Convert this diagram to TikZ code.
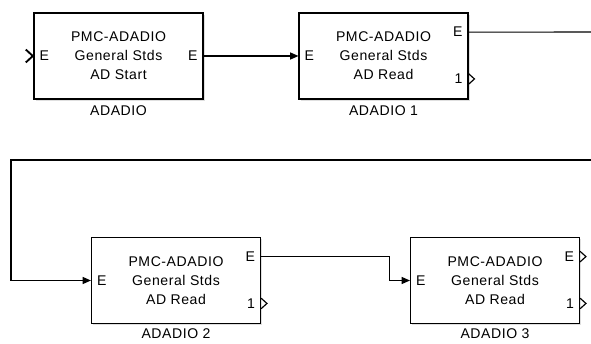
\documentclass[tikz,border=0pt]{standalone}
\usepackage{fontspec}
\setmainfont[LetterSpace=4]{Liberation Sans}
\usetikzlibrary{positioning, arrows.meta, shadows}

\begin{document}
\begin{tikzpicture}[x=0.03cm, y=-0.03cm,
    blk/.style={draw, line width=1pt, fill=white, minimum width=5.07cm, minimum height=2.58cm,
                inner sep=0pt, align=center, font=\fontsize{12}{16.2}\selectfont,
                drop shadow={shadow xshift=1.3pt, shadow yshift=-1.3pt, fill=black!25, opacity=0.5}},
    blkname/.style={font=\fontsize{12}{14}\selectfont, inner sep=1pt},
    portlbl/.style={font=\fontsize{12}{14}\selectfont, inner sep=0pt},
    sig/.style={line width=0.9pt},
    arr/.style={sig, -{Triangle[length=7pt, width=6pt]}},
    chev/.style={line width=1pt, line join=miter}]

  \useasboundingbox (0,0) rectangle (591,344);

  % blocks
  \node[blk] (start) at (118.5,56) {PMC-ADADIO\\General Stds\\AD Start};
  \node[blk] (read1) at (383.5,56) {PMC-ADADIO\\General Stds\\AD Read};
  \node[blk] (read2) at (176,280.5) {PMC-ADADIO\\General Stds\\AD Read};
  \node[blk] (read3) at (495,280.5) {PMC-ADADIO\\General Stds\\AD Read};

  \node[blkname, below=4pt of start] (startname) {ADADIO};
  \node[blkname, below=4pt of read1] (read1name) {ADADIO 1};
  \node[blkname, below=3pt of read2] (read2name) {ADADIO 2};
  \node[blkname, below=3pt of read3] (read3name) {ADADIO 3};

  % ports
  \coordinate (start-eo) at (start.east);
  \foreach \b in {read1, read2, read3} {
    \coordinate (\b-eo) at ([yshift=20.4pt]\b.east);
    \coordinate (\b-1o) at ([yshift=-19.6pt]\b.east);
    \node[portlbl, left=5pt of \b-1o] {1};
  }
  \foreach \b in {start, read1, read2, read3} {
    \node[portlbl, right=5pt of \b.west] {E};
    \node[portlbl, left=5pt of \b-eo] {E};
  }

  \draw[chev, line width=1.6pt] ([xshift=-6.5pt, yshift=5.5pt]start.west)
        -- ++(6pt,-5.5pt) -- ++(-6pt,-5.5pt);
  \foreach \p in {read1-1o, read2-1o, read3-eo, read3-1o}
    \draw[chev] ([yshift=4.5pt]\p) -- ++(5pt,-4.5pt) -- ++(-5pt,-4.5pt);

  % signals
  \coordinate (cut1) at (591,32);
  \coordinate (cut2) at (591,160);
  \coordinate (turn) at (11,160);

  \draw[arr] (start-eo) -- (read1.west);
  \draw[sig] (read1-eo) -- (cut1);
  \draw[arr] (cut2) -- (turn) |- (read2.west);
  \draw[arr] (read2-eo) -- ++(128,0) |- (read3.west);
\end{tikzpicture}
\end{document}
